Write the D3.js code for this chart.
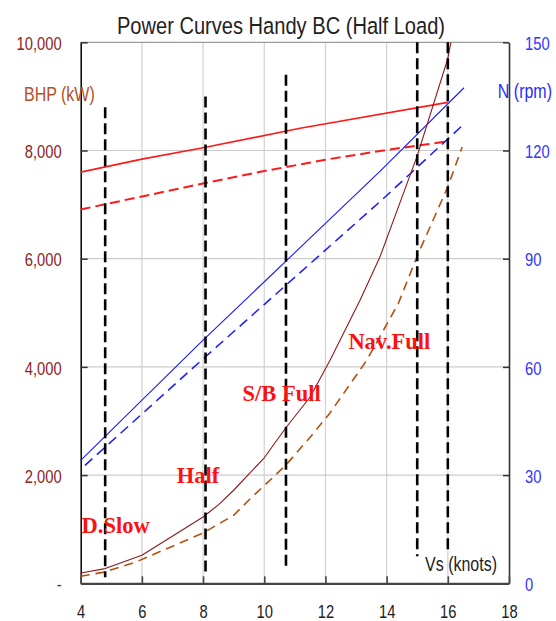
<!DOCTYPE html>
<html>
<head>
<meta charset="utf-8">
<script src="https://cdn.jsdelivr.net/npm/d3@7"></script>
<style>
  html, body { margin: 0; padding: 0; background: #fff; }
  svg { display: block; }
</style>
</head>
<body>
<svg id="chart" width="556" height="621"></svg>
<script>
// ---------- data ----------
const xTicks = [4, 6, 8, 10, 12, 14, 16, 18];
const bhpTicks = [0, 2000, 4000, 6000, 8000, 10000];
const rpmTicks = [0, 30, 60, 90, 120, 150];

// BHP full (dark red solid)
const bhpFullSpeed = [4, 4.8, 6, 8, 8.5, 9, 10, 10.7, 11.5, 12.15, 13.13, 13.78, 15, 16, 16.1];
const bhpFullValue = [190, 272, 518, 1226, 1450, 1720, 2320, 2870, 3444, 4122, 5231, 6030, 7900, 9700, 10000];

// BHP half (sienna dashed)
const bhpHalfSpeed = [4, 4.8, 5.83, 8, 9, 9.5, 10.7, 11.5, 12.15, 13.35, 14.38, 15, 16, 16.47];
const bhpHalfValue = [130, 210, 400, 930, 1257, 1540, 2181, 2700, 3150, 4122, 5170, 6050, 7330, 8065];

// red solid / red dashed (plotted on BHP axis)
const redSolidSpeed = [4, 6, 8, 11.17, 16];
const redSolidValue = [7600, 7840, 8050, 8410, 8890];
const redDashSpeed = [4, 6, 8, 10, 12, 14, 16];
const redDashValue = [6910, 7150, 7390, 7620, 7830, 8010, 8170];

// rpm lines (blue)
const rpmSolidSpeed = [4, 7.89, 13.78, 16.53];
const rpmSolidValue = [34.1, 66.5, 114.2, 137.4];
const rpmDashSpeed = [4.14, 7.89, 13.78, 16.5];
const rpmDashValue = [32.7, 61.4, 105.8, 127.1];

// vertical dashed markers (engine settings)
const markerSpeed = [4.8, 8.08, 10.71, 15.0, 16.0];
const markerTop = [8800, 9000, 9400, 10000, 10000];
const markerBottom = [110, 150, 280, 500, 600];

// annotation labels
const labelText = ["D.Slow", "Half", "S/B Full", "Nav.Full"];
const labelSpeed = [4.03, 7.14, 9.29, 12.75];
const labelBhp = [925, 1854, 3375, 4325];

// ---------- drawing ----------
const svg = d3.select("#chart");
const L = 80.7, R = 509, T = 42.3, B = 583.3;
const x = d3.scaleLinear().domain([4, 18]).range([L, R]);
const yL = d3.scaleLinear().domain([0, 10000]).range([B, T]);
const yR = d3.scaleLinear().domain([0, 150]).range([B, T]);
const sans = "'Liberation Sans', Arial, sans-serif";
const SQ = 0.82; // horizontal squeeze to emulate a narrow face

function squeeze(sel) {
  sel.each(function () {
    const t = d3.select(this);
    const tx = +t.attr("x") || 0, ty = +t.attr("y") || 0;
    t.attr("x", 0).attr("y", 0).attr("transform", `translate(${tx},${ty}) scale(${SQ},1)`);
  });
}

// title
svg.append("text").attr("x", 281).attr("y", 33.5).attr("text-anchor", "middle")
  .attr("font-family", sans).attr("font-size", 24.5).attr("fill", "#222")
  .text("Power Curves Handy BC (Half Load)").call(squeeze);

// gridlines
const grid = svg.append("g");
grid.selectAll("line.v").data(xTicks.filter(d => d > 4 && d < 18)).join("line")
  .attr("x1", d => x(d)).attr("x2", d => x(d)).attr("y1", T).attr("y2", B)
  .attr("stroke", "#d4d4d4").attr("stroke-width", 1.3);
grid.selectAll("line.h").data(bhpTicks.filter(d => d > 0)).join("line")
  .attr("x1", L).attr("x2", R).attr("y1", d => yL(d)).attr("y2", d => yL(d))
  .attr("stroke", d => d === 10000 ? "#9a9a9a" : "#cccccc").attr("stroke-width", 1.2);

// axes
const leftAxis = svg.append("g").attr("transform", `translate(${L},0)`)
  .call(d3.axisLeft(yL).tickValues(bhpTicks).tickSizeInner(-7).tickSizeOuter(0).tickPadding(19)
    .tickFormat(d => d === 0 ? "-" : d3.format(",")(d)));
leftAxis.select(".domain").attr("stroke", "#000").attr("stroke-width", 1.5);
leftAxis.selectAll(".tick line").attr("stroke", "#333").attr("stroke-width", 1.5);
leftAxis.selectAll(".tick text").attr("font-family", sans).attr("font-size", 18)
  .attr("fill", "#8b2323").attr("dy", "0.4em").call(squeeze);

const rightAxis = svg.append("g").attr("transform", `translate(${R},0)`)
  .call(d3.axisRight(yR).tickValues(rpmTicks).tickSizeInner(-6).tickSizeOuter(0).tickPadding(16));
rightAxis.select(".domain").attr("stroke", "#333").attr("stroke-width", 1.6);
rightAxis.selectAll(".tick line").attr("stroke", "#333").attr("stroke-width", 1.5);
rightAxis.selectAll(".tick text").attr("font-family", sans).attr("font-size", 18)
  .attr("fill", "#3333ff").attr("dy", "0.4em").call(squeeze);

const bottomAxis = svg.append("g").attr("transform", `translate(0,${B})`)
  .call(d3.axisBottom(x).tickValues(xTicks).tickSizeInner(-7).tickSizeOuter(0).tickPadding(22));
bottomAxis.select(".domain").attr("stroke", "#444").attr("stroke-width", 2.2);
bottomAxis.selectAll(".tick line").attr("stroke", "#444").attr("stroke-width", 1.6);
bottomAxis.selectAll(".tick text").attr("font-family", sans).attr("font-size", 18)
  .attr("fill", "#222").call(squeeze);

// axis titles
svg.append("text").attr("x", 24).attr("y", 101).attr("font-family", sans).attr("font-size", 19.5)
  .attr("fill", "#b5501f").text("BHP (kW)").call(squeeze);
svg.append("text").attr("x", 552).attr("y", 98).attr("text-anchor", "end").attr("font-family", sans)
  .attr("font-size", 19.5).attr("fill", "#2b2bff").text("N (rpm)").call(squeeze);
svg.append("text").attr("x", 497).attr("y", 571).attr("text-anchor", "end").attr("font-family", sans)
  .attr("font-size", 19.5).attr("fill", "#222").text("Vs (knots)").call(squeeze);

// line helpers
function drawLine(xs, ys, yScale, color, width, dash) {
  const pts = xs.map((d, i) => [d, ys[i]]);
  const gen = d3.line().x(d => x(d[0])).y(d => yScale(d[1]));
  const p = svg.append("path").datum(pts).attr("d", gen).attr("fill", "none")
    .attr("stroke", color).attr("stroke-width", width).attr("stroke-linejoin", "round");
  if (dash) p.attr("stroke-dasharray", dash);
}

drawLine(redSolidSpeed, redSolidValue, yL, "#ff1a1a", 1.6, null);
drawLine(redDashSpeed, redDashValue, yL, "#ff1a1a", 2, "10,5");
drawLine(rpmSolidSpeed, rpmSolidValue, yR, "#1a1aff", 1.1, null);
drawLine(rpmDashSpeed, rpmDashValue, yR, "#1a1aff", 1.5, "10,6");
drawLine(bhpFullSpeed, bhpFullValue, yL, "#8b1a1a", 1.1, null);
drawLine(bhpHalfSpeed, bhpHalfValue, yL, "#b5500f", 1.6, "9,6");

// vertical dashed markers
svg.append("g").selectAll("line").data(markerSpeed).join("line")
  .attr("x1", d => x(d)).attr("x2", d => x(d))
  .attr("y1", (d, i) => yL(markerTop[i])).attr("y2", (d, i) => yL(markerBottom[i]))
  .attr("stroke", "#000").attr("stroke-width", 2.6).attr("stroke-dasharray", "11,5");

// annotations
svg.append("g").selectAll("text").data(labelText).join("text")
  .attr("x", (d, i) => x(labelSpeed[i])).attr("y", (d, i) => yL(labelBhp[i]))
  .attr("font-family", "'Liberation Serif', 'Times New Roman', serif").attr("font-weight", "bold")
  .attr("font-size", 22.5).attr("fill", "#ff1010")
  .text(d => d);
</script>
</body>
</html>
